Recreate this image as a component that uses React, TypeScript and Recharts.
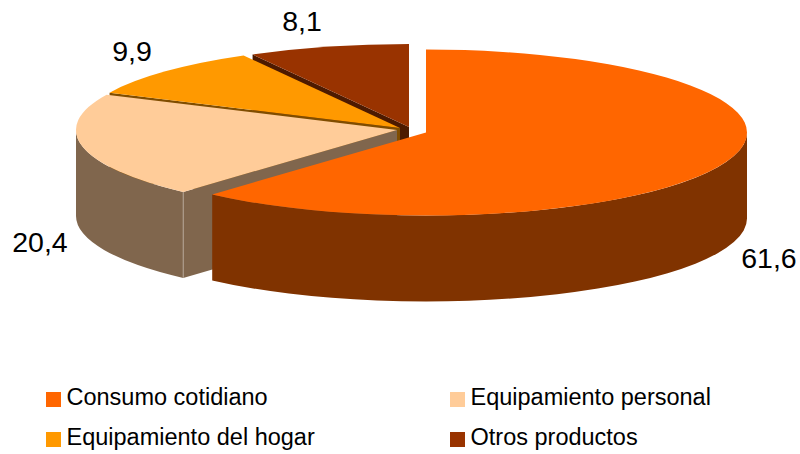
import { Legend, Pie, PieChart } from "recharts";

const categories = ["Consumo cotidiano", "Equipamiento personal", "Equipamiento del hogar", "Otros productos"];
const shares = [61.6, 20.4, 9.9, 8.1];

const topColors = ["#FF6600", "#FFCC99", "#FF9900", "#993300"];
const wallColors = ["#803300", "#80664D", "#804D00", "#4D1A00"];

// each slice is pulled away from the pie centre by its own amount
const explode = [
	[29, 5.5],
	[0, 3],
	[3, 1],
	[12, 0],
];
const labelSpots = [
	[769, 268],
	[40, 252],
	[132, 61],
	[302, 31],
];

const FONT = "'Liberation Sans', Arial, sans-serif";
const RY = 83;
const DEPTH = 86;

// back slices first so the front ones paint over them, hence the reverse
const pieData = categories.map((name, i) => ({ name, value: shares[i] })).reverse();

const rad = (deg: number) => (deg * Math.PI) / 180;

function Slice3D(props: any) {
	const i = categories.indexOf(props.name);
	const rx = props.outerRadius;
	const cx = props.cx + explode[i][0];
	const cy = props.cy + explode[i][1];
	const a0 = Math.min(props.startAngle, props.endAngle);
	const a1 = Math.max(props.startAngle, props.endAngle);

	const px = (a: number) => cx + rx * Math.cos(rad(a));
	const py = (a: number) => cy - RY * Math.sin(rad(a));

	// outer wall only exists on the front half of the ellipse
	const from = Math.max(a0, 180);
	const to = Math.min(a1, 360);
	const outerWall =
		to > from
			? `M${px(from)},${py(from)} A${rx},${RY} 0 0 0 ${px(to)},${py(to)} L${px(to)},${py(to) + DEPTH} A${rx},${RY} 0 0 1 ${px(from)},${py(from) + DEPTH} Z`
			: null;

	// cut face at the counter clockwise end, seen only on the left side
	const showFace = a1 > 90 && a1 < 270;
	const face = `M${cx},${cy} L${px(a1)},${py(a1)} L${px(a1)},${py(a1) + DEPTH} L${cx},${cy + DEPTH} Z`;

	const large = a1 - a0 > 180 ? 1 : 0;
	const top = `M${cx},${cy} L${px(a1)},${py(a1)} A${rx},${RY} 0 ${large} 1 ${px(a0)},${py(a0)} Z`;

	return (
		<g>
			{showFace && <path d={face} fill={wallColors[i]} />}
			{outerWall && <path d={outerWall} fill={wallColors[i]} />}
			{showFace && a1 > 180 && (
				<line x1={px(a1)} y1={py(a1)} x2={px(a1)} y2={py(a1) + DEPTH} stroke='#B3A394' strokeWidth={1} />
			)}
			<path d={top} fill={topColors[i]} />
		</g>
	);
}

const renderLabel = (props: any) => {
	const i = categories.indexOf(props.name);
	return (
		<text x={labelSpots[i][0]} y={labelSpots[i][1]} textAnchor='middle' fontFamily={FONT} fontSize={28.5} fill='#000000'>
			{shares[i].toFixed(1).replace(".", ",")}
		</text>
	);
};

const LegendBlock = () => (
	<div style={{ position: "relative", width: 800, height: 74, fontFamily: FONT, fontSize: 23.5, color: "#000000" }}>
		{categories.map((name, i) => {
			const left = i % 2 === 0 ? 46 : 450;
			const top = i < 2 ? 0 : 40;
			return (
				<div key={name} style={{ position: "absolute", left, top, whiteSpace: "nowrap" }}>
					<span style={{ position: "absolute", left: 0, top: 12, width: 15, height: 15, background: topColors[i] }} />
					<span style={{ position: "absolute", left: 20.5, top: 0, lineHeight: "34px" }}>{name}</span>
				</div>
			);
		})}
	</div>
);

export default function App() {
	return (
		<div style={{ position: "absolute", left: 0, top: 0, width: 800, height: 454, background: "#FFFFFF" }}>
			<PieChart width={800} height={454} margin={{ top: 0, right: 0, bottom: 0, left: 0 }}>
				<Pie
					data={pieData}
					dataKey='value'
					nameKey='name'
					cx={397}
					cy={127}
					outerRadius={321}
					startAngle={90}
					endAngle={450}
					shape={Slice3D}
					label={renderLabel}
					labelLine={false}
					isAnimationActive={false}
				/>
				<Legend content={<LegendBlock />} wrapperStyle={{ left: 0, top: 380, width: 800 }} />
			</PieChart>
		</div>
	);
}
